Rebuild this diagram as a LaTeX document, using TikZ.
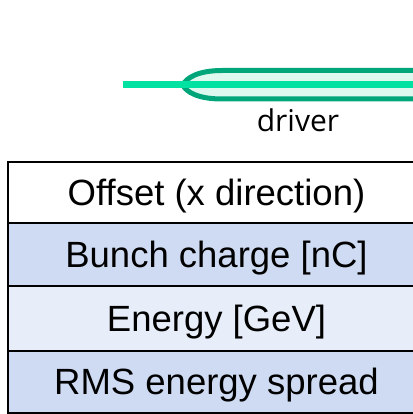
\documentclass[tikz,border=0pt]{standalone}
\usepackage{fontspec}
\setmainfont{Liberation Sans}
\newfontfamily\labelfont{Open Sans}
\definecolor{beamline}{HTML}{00E2A2}
\definecolor{bunchedge}{HTML}{00A67A}
\definecolor{bunchfill}{HTML}{DDF8EE}
\definecolor{rowdark}{HTML}{CFDBF3}
\definecolor{rowlight}{HTML}{E8EEF9}
\tikzset{
  rowbox/.style={draw=black, line width=1.8pt, minimum width=417pt, inner sep=0pt, outer sep=0pt,
    text height=26pt, text depth=0pt, font=\fontsize{36.5}{40}\selectfont},
}
\begin{document}
\begin{tikzpicture}[x=1pt,y=1pt]
\useasboundingbox (0,0) rectangle (412,414);
% bunch
\fill[bunchfill] (430,343.5) -- (222,343.5) .. controls (198,343.5) and (186,336) .. (183,329)
  .. controls (186,322) and (198,315) .. (222,315) -- (430,315) -- cycle;
\draw[bunchedge, line width=5pt] (430,343.5) -- (222,343.5) .. controls (198,343.5) and (186,336) .. (183,329)
  .. controls (186,322) and (198,315) .. (222,315) -- (430,315);
\coordinate (bstart) at (123,329);
\coordinate (bend) at (430,329);
\draw[beamline, line width=7pt] (bstart) -- (bend);
\node[anchor=base, font=\labelfont\fontsize{30}{33}\selectfont, inner sep=0pt] (drv) at (298,282) {driver};
% table
\node[rowbox, fill=white, minimum height=61pt] (r1) at (216.5,221.5) {Offset (x direction)};
\node[rowbox, fill=rowdark, minimum height=63pt] (r2) at (216.5,159.5) {Bunch charge [nC]};
\node[rowbox, fill=rowlight, minimum height=65pt] (r3) at (216.5,95.5) {Energy [GeV]};
\node[rowbox, fill=rowdark, minimum height=62pt] (r4) at (216.5,32) {RMS energy spread};
\end{tikzpicture}
\end{document}
